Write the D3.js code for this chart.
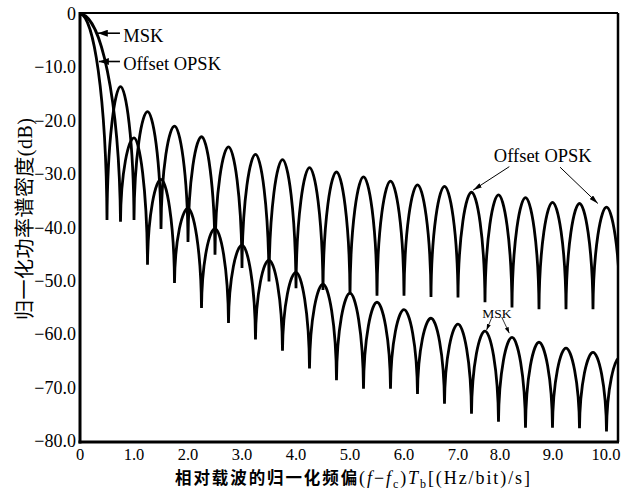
<!DOCTYPE html>
<html>
<head>
<meta charset="utf-8">
<script src="https://cdn.jsdelivr.net/npm/d3@7"></script>
<style>
  html, body { margin: 0; padding: 0; background: #fff; }
  svg { display: block; }
</style>
</head>
<body>
<svg id="chart" width="622" height="493"></svg>
<script>
// Normalized power spectral density, lobe by lobe.
// Each spectrum is described by the tops of its lobes and the floor reached at each null.

// MSK
const mskPeakF  = [0, 1.0, 1.5, 2.0, 2.5, 3.0, 3.5, 4.0, 4.5, 5.0, 5.5, 6.0, 6.5, 7.0, 7.5, 8.0, 8.5, 9.0, 9.5, 10.0];
const mskPeakDb = [0, -23.2, -31.0, -36.4, -40.2, -43.3, -46.1, -48.4, -50.6, -52.3, -54.0, -55.4, -57.0, -58.1, -59.4, -60.6, -61.5, -62.6, -63.4, -64.3];
const mskNullF  = [0.75, 1.25, 1.75, 2.25, 2.75, 3.25, 3.75, 4.25, 4.75, 5.25, 5.75, 6.25, 6.75, 7.25, 7.75, 8.25, 8.75, 9.25, 9.75];
const mskNullDb = [-38.9, -47.0, -50.4, -55.1, -57.9, -61.0, -63.1, -66.4, -68.6, -70.2, -70.2, -71.2, -73.0, -74.9, -76.4, -77.5, -77.5, -77.6, -78.2];

// Offset QPSK
const oqPeakF  = [0, 0.75, 1.25, 1.75, 2.25, 2.75, 3.25, 3.75, 4.25, 4.75, 5.25, 5.75, 6.25, 6.75, 7.25, 7.75, 8.25, 8.75, 9.25, 9.75];
const oqPeakDb = [0, -13.6, -18.3, -21.0, -23.0, -24.9, -26.3, -27.3, -28.8, -29.6, -30.5, -31.3, -32.0, -32.3, -33.4, -33.9, -34.4, -35.3, -35.5, -36.2];
const oqNullF  = [0.5, 1.0, 1.5, 2.0, 2.5, 3.0, 3.5, 4.0, 4.5, 5.0, 5.5, 6.0, 6.5, 7.0, 7.5, 8.0, 8.5, 9.0, 9.5, 10.0];
const oqNullDb = [-38.6, -38.6, -40.3, -42.7, -45.1, -47.6, -50.1, -51.4, -51.7, -52.6, -52.8, -52.8, -53.0, -53.1, -54.0, -55.0, -55.3, -55.3, -55.3, -55.3];

// Axes
const xTicks = [0, 1, 2, 3, 4, 5, 6, 7, 8, 9, 10];
const yTicks = [0, -10, -20, -30, -40, -50, -60, -70, -80];

const svg = d3.select("#chart");
const serif = "'Liberation Serif', 'Times New Roman', serif";
const cjk = "'Noto Sans CJK SC', sans-serif";

const x = d3.scaleLinear().domain([0, 10]).range([80, 620]);
const y = d3.scaleLinear().domain([0, -80]).range([14, 441]);

const plot = { left: 80, top: 13, right: 618, bottom: 442 };

svg.append("defs").append("clipPath").attr("id", "plotClip")
  .append("rect")
  .attr("x", plot.left).attr("y", plot.top)
  .attr("width", plot.right - plot.left).attr("height", plot.bottom - plot.top);

// Arrowheads
const defs = svg.select("defs");
function arrowMarker(id, len, wid) {
  defs.append("marker")
    .attr("id", id)
    .attr("markerUnits", "userSpaceOnUse")
    .attr("viewBox", `0 0 ${len} ${wid}`)
    .attr("refX", len).attr("refY", wid / 2)
    .attr("markerWidth", len).attr("markerHeight", wid)
    .attr("orient", "auto")
    .append("path")
    .attr("d", `M0,0L${len},${wid / 2}L0,${wid}Z`)
    .attr("fill", "#000");
}
arrowMarker("headBig", 10, 7);
arrowMarker("headMid", 9, 5);
arrowMarker("headSmall", 6, 4);

// Merge peaks and nulls into one frequency-ordered list of vertices
function vertices(peakF, peakDb, nullF, nullDb) {
  const pts = peakF.map((f, i) => ({ f, db: peakDb[i], kind: "peak" }))
    .concat(nullF.map((f, i) => ({ f, db: nullDb[i], kind: "null" })));
  return pts.sort((a, b) => a.f - b.f);
}

// Each half-lobe is a cubic arc: flat at the lobe top, plunging vertically into the null
function spectrumPath(pts) {
  const p = d3.path();
  p.moveTo(x(pts[0].f), y(pts[0].db));
  for (let i = 1; i < pts.length; i++) {
    const a = pts[i - 1], b = pts[i];
    const ax = x(a.f), ay = y(a.db), bx = x(b.f), by = y(b.db);
    const m = (a.f === 0) ? 0.5 : 0.4;
    const k = 0.6;
    if (a.kind === "peak") {
      p.bezierCurveTo(ax + m * (bx - ax), ay, bx - 0.03 * (bx - ax), by - k * (by - ay), bx, by);
    } else {
      p.bezierCurveTo(ax + 0.03 * (bx - ax), ay - k * (ay - by), bx - m * (bx - ax), by, bx, by);
    }
  }
  return p.toString();
}

const curves = svg.append("g").attr("clip-path", "url(#plotClip)");
[
  vertices(oqPeakF, oqPeakDb, oqNullF, oqNullDb),
  vertices(mskPeakF, mskPeakDb, mskNullF, mskNullDb)
].forEach(pts => {
  curves.append("path")
    .attr("d", spectrumPath(pts))
    .attr("fill", "none")
    .attr("stroke", "#000")
    .attr("stroke-width", 2.8)
    .attr("stroke-linejoin", "miter")
    .attr("stroke-miterlimit", 3);
});

// Frame
const frame = svg.append("g").attr("stroke", "#000");
frame.append("line").attr("x1", plot.left).attr("x2", plot.right).attr("y1", plot.top).attr("y2", plot.top).attr("stroke-width", 2);
frame.append("line").attr("x1", plot.right).attr("x2", plot.right).attr("y1", plot.top).attr("y2", plot.bottom).attr("stroke-width", 2.5);
frame.append("line").attr("x1", plot.left).attr("x2", plot.left).attr("y1", plot.top - 1).attr("y2", plot.bottom + 1.5).attr("stroke-width", 3);
frame.append("line").attr("x1", plot.left - 1.5).attr("x2", plot.right + 1).attr("y1", plot.bottom).attr("y2", plot.bottom).attr("stroke-width", 3);

// Tick labels
const fmt = v => v === 0 ? "0" : (v < 0 ? "\u2212" : "") + Math.abs(v).toFixed(1);
svg.append("g").selectAll("text").data(yTicks).join("text")
  .attr("x", 76).attr("y", d => y(d) + 6)
  .attr("text-anchor", "end")
  .attr("font-family", serif).attr("font-size", 18)
  .text(fmt);

// the last labels are pulled in so "10.0" stays inside the figure
const xNudge = v => v >= 8 ? -(v - 8 + 12) : 0;
svg.append("g").selectAll("text").data(xTicks).join("text")
  .attr("x", d => x(d) + xNudge(d)).attr("y", 460)
  .attr("text-anchor", "middle")
  .attr("font-family", serif).attr("font-size", 16.5)
  .text(fmt);

// Axis titles
const xTitle = svg.append("text")
  .attr("x", 175).attr("y", 484)
  .attr("font-size", 16.5)
  .attr("textLength", 355).attr("lengthAdjust", "spacing");
xTitle.append("tspan").attr("font-family", cjk).attr("font-weight", 600).text("相对载波的归一化频偏");
const xs = xTitle.append("tspan").attr("font-family", serif).attr("font-size", 18);
xs.append("tspan").text("(");
xs.append("tspan").attr("font-style", "italic").text("f");
xs.append("tspan").text("\u2212");
xs.append("tspan").attr("font-style", "italic").text("f");
xs.append("tspan").attr("font-size", 12).attr("dy", 4).text("c");
xs.append("tspan").attr("dy", -4).text(")");
xs.append("tspan").attr("font-style", "italic").text("T");
xs.append("tspan").attr("font-size", 12).attr("dy", 4).text("b");
xs.append("tspan").attr("dy", -4).text("[(Hz/bit)/s]");

const yTitle = svg.append("text")
  .attr("transform", "translate(32,219) rotate(-90)")
  .attr("text-anchor", "middle")
  .attr("font-size", 20)
  .attr("textLength", 202).attr("lengthAdjust", "spacing");
yTitle.append("tspan").attr("font-family", cjk).text("归一化功率谱密度");
yTitle.append("tspan").attr("font-family", serif).text("(dB)");

// Annotations
const ann = svg.append("g").attr("font-family", serif);
function arrow(f1, d1, f2, d2, width, head) {
  ann.append("line")
    .attr("x1", x(f1)).attr("y1", y(d1))
    .attr("x2", x(f2)).attr("y2", y(d2))
    .attr("stroke", "#000").attr("stroke-width", width)
    .attr("marker-end", `url(#${head})`);
}
// main-lobe labels
arrow(0.74, -3.6, 0.33, -3.6, 1.6, "headBig");
ann.append("text").attr("x", x(0.8)).attr("y", y(-5.2)).attr("font-size", 18.5).text("MSK");
arrow(0.74, -8.9, 0.35, -8.9, 1.6, "headBig");
ann.append("text").attr("x", x(0.8)).attr("y", y(-10.4)).attr("font-size", 18.5).text("Offset OPSK");

// far-sidelobe labels
ann.append("text").attr("x", x(8.57)).attr("y", y(-27.7)).attr("text-anchor", "middle")
  .attr("font-size", 18.5).text("Offset OPSK");
arrow(7.95, -28.6, 7.28, -33.0, 1, "headMid");
arrow(8.89, -28.7, 9.59, -35.5, 1, "headMid");

ann.append("text").attr("x", x(7.72)).attr("y", y(-57.0)).attr("text-anchor", "middle")
  .attr("font-size", 13.5).text("MSK");
arrow(7.62, -57.0, 7.53, -59.2, 0.8, "headSmall");
arrow(7.81, -56.8, 7.95, -59.8, 0.8, "headSmall");
</script>
</body>
</html>
